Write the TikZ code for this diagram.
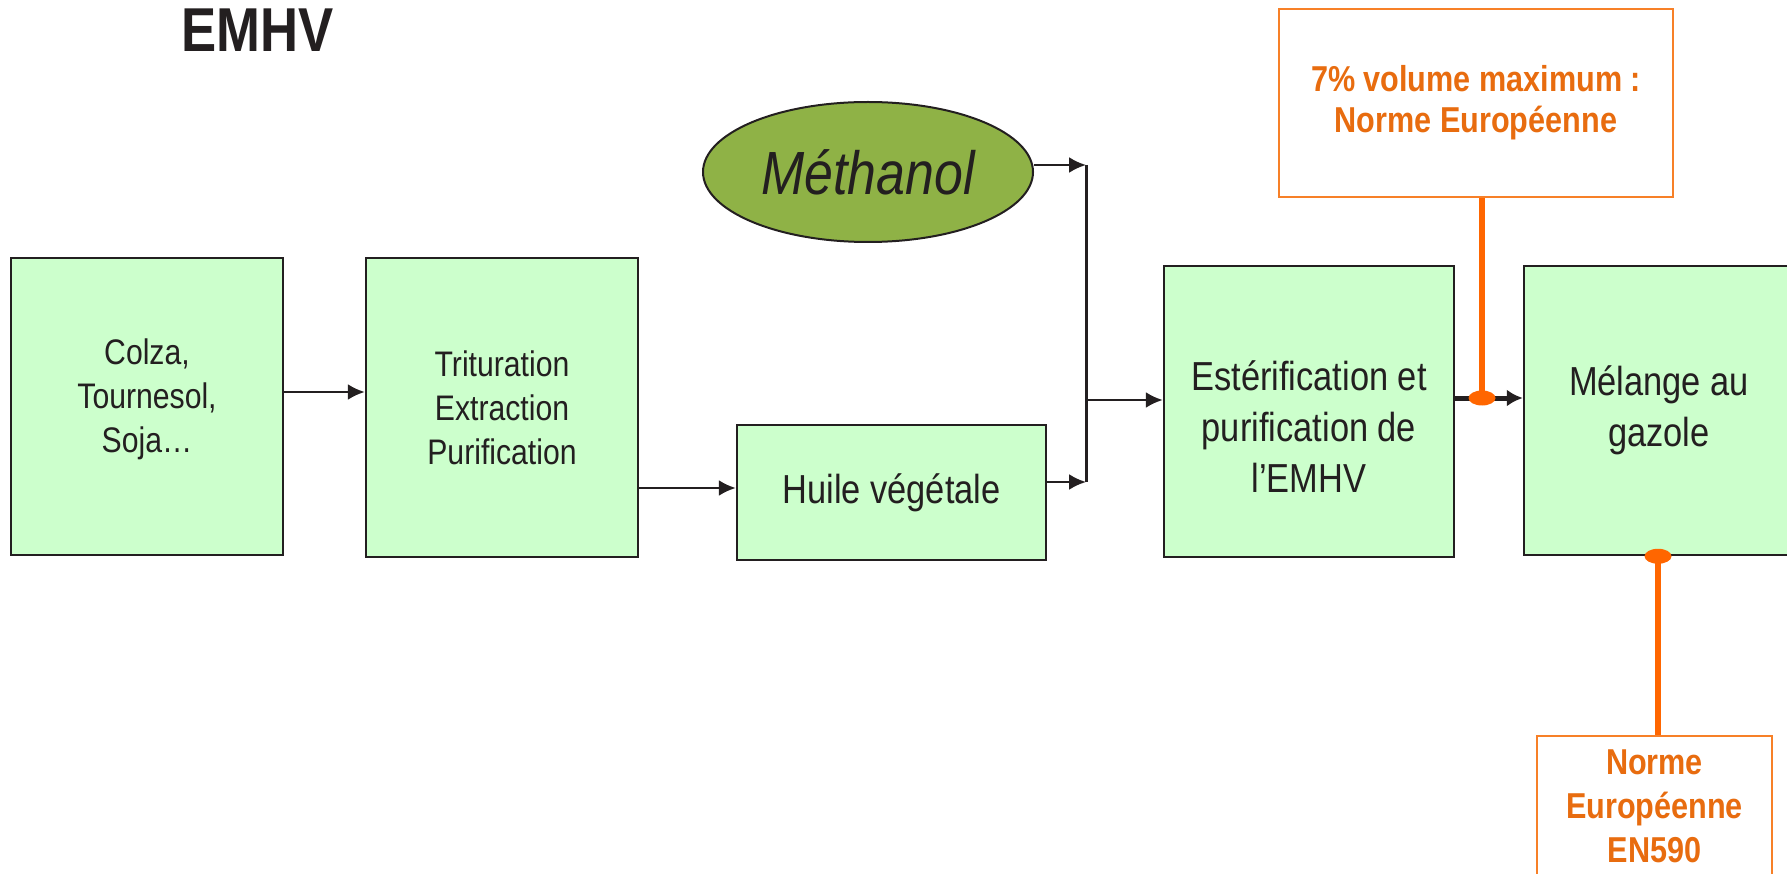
\documentclass[tikz,border=0pt]{standalone}
\usepackage{fontspec}
\setmainfont{Liberation Sans}[FakeStretch=0.85]
\usetikzlibrary{arrows.meta,shapes.geometric}
\definecolor{boxfill}{RGB}{204,255,204}
\definecolor{boxline}{RGB}{35,31,32}
\definecolor{olivefill}{RGB}{143,178,70}
\definecolor{otext}{RGB}{232,108,15}
\definecolor{oline}{RGB}{255,102,0}
\definecolor{oborder}{RGB}{247,128,40}
\begin{document}
\begin{tikzpicture}[x=1pt,y=-1pt,
  gbox/.style={draw=boxline, line width=2.5pt, fill=boxfill, inner sep=0pt, align=center, text=boxline},
  small/.style={font=\fontsize{35.5}{44}\selectfont},
  big/.style={font=\fontsize{40.5}{51}\selectfont},
  gtext/.style={align=center, text=boxline, inner sep=0pt},
  obox/.style={draw=oborder, line width=2.2pt, fill=white, inner sep=0pt, align=center, text=otext, font=\bfseries\fontsize{36}{41}\selectfont},
  otxt/.style={align=center, text=otext, inner sep=0pt, font=\bfseries\fontsize{36}{44}\selectfont},
  arr/.style={draw=boxline, line width=2.4pt, -{Latex[length=17pt,width=16pt]}},
  thickarr/.style={draw=boxline, line width=5pt, -{Latex[length=16pt,width=17pt]}},
  bus/.style={draw=boxline, line width=3pt},
  oconn/.style={draw=oline, line width=6pt},
  odot/.style={ellipse, fill=oline, draw=none, minimum width=27pt, minimum height=15pt, inner sep=0pt}
]
\useasboundingbox (0,0) rectangle (1787,874);

% title
\node[font=\bfseries\fontsize{62}{70}\selectfont, text=boxline, anchor=base west, inner sep=0pt] (title) at (181,52) {EMHV};

% green boxes
\node[gbox, minimum width=272pt, minimum height=297pt] (b1) at (147,406.5) {};
\node[gtext, small] (t1) at (147,399) {Colza,\\Tournesol,\\Soja…};
\node[gbox, small, minimum width=272pt, minimum height=299pt] (b2) at (502,407.5) {Trituration\\Extraction\\Purification};
\node[gbox, big, minimum width=309pt, minimum height=135pt] (b3) at (891.5,492.5) {Huile végétale};
\node[gbox, minimum width=290pt, minimum height=291pt] (b4) at (1309,411.5) {};
\node[gtext, big] (t4) at (1309,427) {Estérification et\\purification de\\l’EMHV};
\node[gbox, big, minimum width=270pt, minimum height=289pt] (b5) at (1659,410.5) {Mélange au\\gazole};

% methanol
\node[ellipse, draw=boxline, line width=2pt, fill=olivefill, minimum width=330pt, minimum height=140pt, inner sep=0pt,
      text=boxline, font=\itshape\fontsize{61}{70}\selectfont] (meth) at (868,172) {Méthanol};

% orange boxes
\node[obox, minimum width=394pt, minimum height=188pt] (o1) at (1476,103) {7\% volume maximum :\\Norme Européenne};
\node[draw=oborder, line width=2.2pt, fill=white, minimum width=235pt, minimum height=170pt, inner sep=0pt, anchor=north] (o2) at (1654.5,735) {};
\node[otxt, anchor=north] (o2t) at (1654.5,750) {Norme\\Européenne\\EN590};

% coordinates
\coordinate (y1) at (0,392);
\coordinate (y2) at (0,488);
\coordinate (bt) at (1086,165);
\coordinate (bm) at (1086,400);
\coordinate (bb) at (1086,482);
\coordinate (y4) at (0,398);
\coordinate (oc1) at (1482,0);
\coordinate (oc2) at (1658,0);

% connectors
\draw[arr] (b1.east |- y1) -- (b2.west |- y1);
\draw[arr] (b2.east |- y2) -- (b3.west |- y2);
\draw[bus] (bt) -- (bb);
\draw[arr] (meth.east |- bt) -- (bt);
\draw[arr] (b3.east |- bb) -- (bb);
\draw[arr] (bm) -- (b4.west |- bm);
\draw[thickarr] (b4.east |- y4) -- (b5.west |- y4);

% orange connectors
\draw[oconn] (o1.south -| oc1) -- (oc1 |- y4);
\node[odot] (d1) at (oc1 |- y4) {};
\draw[oconn] (b5.south -| oc2) -- (o2.north -| oc2);
\node[odot] (d2) at (b5.south -| oc2) {};
\end{tikzpicture}
\end{document}
